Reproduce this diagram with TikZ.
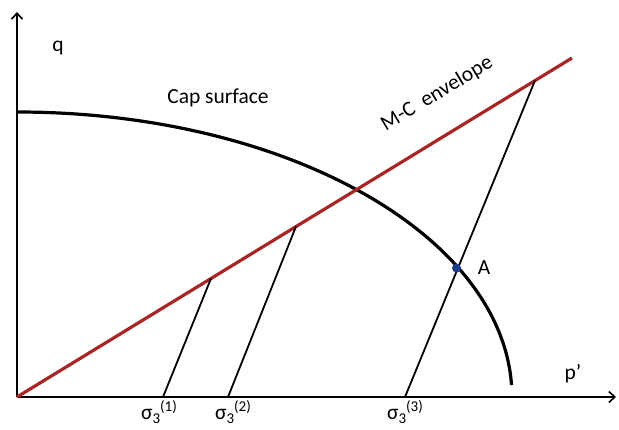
\documentclass[tikz,border=0pt]{standalone}
\usepackage{fontspec}
\setmainfont{Carlito}
\usepackage{tikz}
\usetikzlibrary{arrows.meta,calc}
\definecolor{envred}{RGB}{168,38,38}
\definecolor{dotblue}{RGB}{30,60,140}
\newcommand{\sigl}[1]{σ\raisebox{-0.35ex}{\fontsize{15}{17}\selectfont 3}\raisebox{0.75ex}{\fontsize{15}{17}\selectfont(#1)}}
\tikzset{
  axisline/.style ={-{Straight Barb[length=6pt,width=11pt,line width=1.6pt]}, line width=2pt, draw=black},
  capline/.style  ={line width=3.2pt, draw=black},
  envline/.style  ={line width=3.2pt, draw=envred},
  spath/.style    ={line width=1.8pt, draw=black},
  lbl/.style      ={font=\fontsize{21.5}{24}\selectfont, inner sep=0pt},
}
\begin{document}
\begin{tikzpicture}[x=1pt,y=1pt]
\useasboundingbox (0,0) rectangle (619,429);
% ---------- axes ----------
\coordinate (O) at (17,32);
\coordinate (xend) at (616,32);
\coordinate (yend) at (17,417);
\draw[axisline] (O) -- (xend);
\draw[axisline] (O) -- (yend);
\node[lbl] (q) at (58,381) {q};
\node[lbl] (p) at (573,55) {p’};

% ---------- cap surface ----------
\draw[capline] (17,317) arc[start angle=90, end angle=2.4, x radius=495, y radius=285];
\node[lbl] (capl) at (218,331) {Cap surface};

% ---------- M-C envelope ----------
\coordinate (E) at (572,371);
\draw[envline] (O) -- (E);
\node[lbl, rotate=31] (envl) at (437,335) {M-C\ \ envelope};

% ---------- stress paths ----------
\coordinate (s1) at (163,32);
\coordinate (s2) at (228,32);
\coordinate (s3) at (405,32);
\coordinate (t1) at (211,150.5);
\coordinate (t2) at (296,202.5);
\coordinate (t3) at (535,348.5);
\foreach \i in {1,2,3}{
  \draw[spath] (s\i) -- (t\i);
}
\node[lbl] (l1) at (159,17) {\sigl{1}};
\node[lbl] (l2) at (233,17) {\sigl{2}};
\node[lbl] (l3) at (405,17) {\sigl{3}};

% ---------- point A ----------
\node[circle, fill=dotblue, inner sep=0pt, minimum size=9pt] (A) at (456.5,161) {};
\node[lbl] (Al) at (484,161) {A};
\end{tikzpicture}
\end{document}
